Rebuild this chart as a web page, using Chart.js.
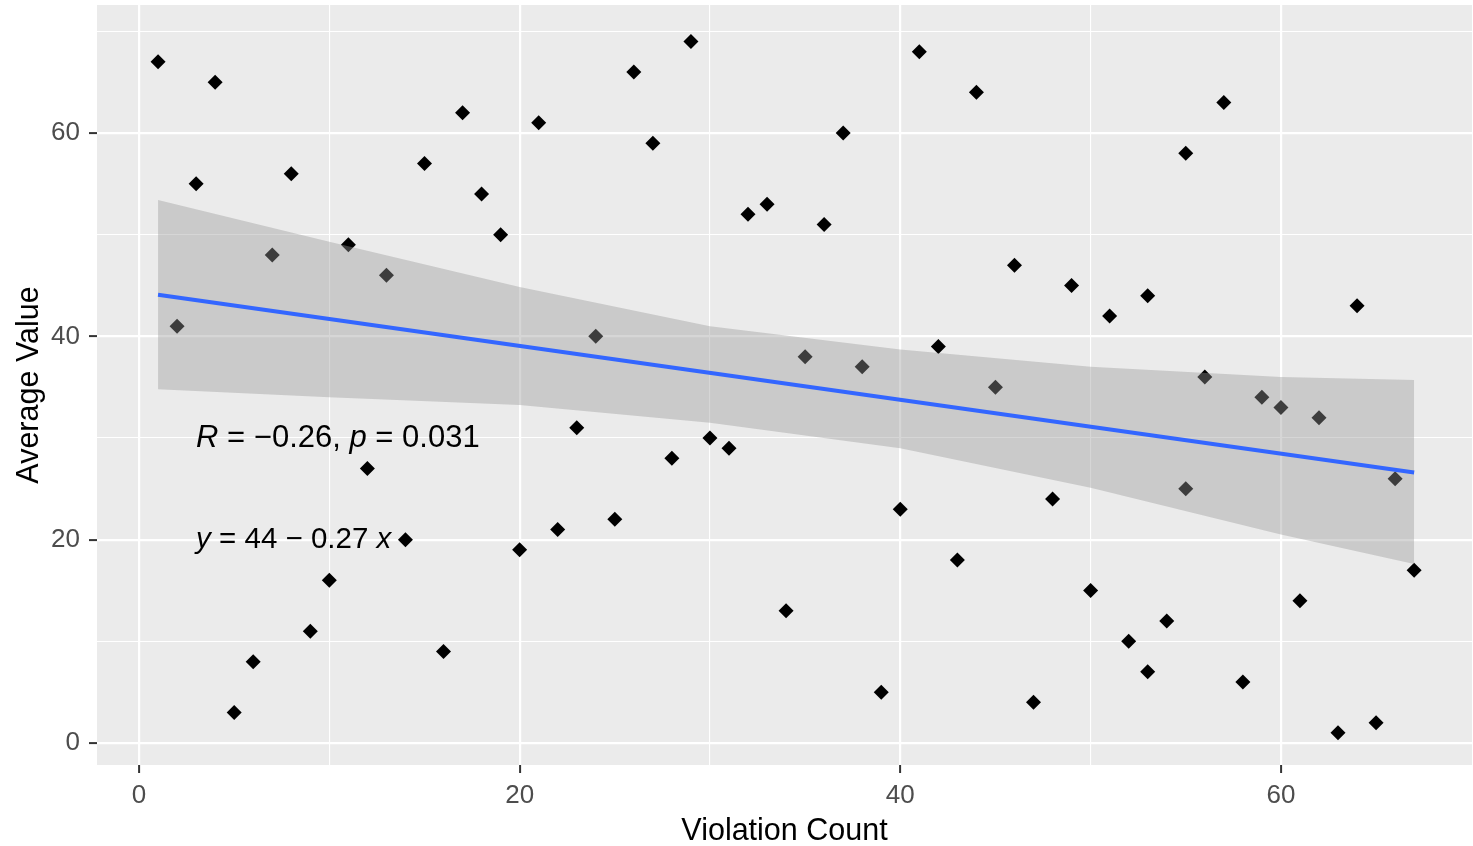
<!DOCTYPE html>
<html>
<head>
<meta charset="utf-8">
<title>Violation Count vs Average Value</title>
<script src="https://cdn.jsdelivr.net/npm/chart.js@4.4.1/dist/chart.umd.min.js"></script>
<style>
    html, body { margin: 0; padding: 0; background: #ffffff; }
    #wrap { width: 1473px; height: 846px; position: relative; }
</style>
</head>
<body>
<div id="wrap"><canvas id="scatterChart"></canvas></div>
<script>
// observed points
const violationCount = [
    1, 2, 3, 4, 5, 6, 7, 8, 9, 10, 11, 12, 13, 14, 15, 16, 17, 18, 19, 20,
    21, 22, 23, 24, 25, 26, 27, 28, 29, 30, 31, 32, 33, 34, 35, 36, 37, 38, 39, 40,
    41, 42, 43, 44, 45, 46, 47, 48, 49, 50, 51, 52, 53, 53, 54, 55, 55, 56, 57, 58,
    59, 60, 61, 62, 63, 64, 65, 66, 67
];
const averageValue = [
    67, 41, 55, 65, 3, 8, 48, 56, 11, 16, 49, 27, 46, 20, 57, 9, 62, 54, 50, 19,
    61, 21, 31, 40, 22, 66, 59, 28, 69, 30, 29, 52, 53, 13, 38, 51, 60, 37, 5, 23,
    68, 39, 18, 64, 35, 47, 4, 24, 45, 15, 42, 10, 44, 7, 12, 58, 25, 36, 63, 6,
    34, 33, 14, 32, 1, 43, 2, 26, 17
];

// fitted line
const fitX = [1, 67];
const fitY = [44.1, 26.6];

// confidence band edges
const bandX = [1, 10, 20, 30, 40, 50, 60, 67];
const bandUpper = [53.4, 49.3, 44.85, 41.0, 38.7, 37.0, 36.0, 35.7];
const bandLower = [34.8, 34.0, 33.25, 31.5, 29.0, 25.1, 20.5, 17.6];

// grid / tick labels
const xGridValues = [0, 10, 20, 30, 40, 50, 60];
const xTickLabels = [0, 20, 40, 60];
const yGridValues = [0, 10, 20, 30, 40, 50, 60, 70];
const yTickLabels = [0, 20, 40, 60];

const corLabel = [['R', true], [' = \u22120.26, ', false], ['p', true], [' = 0.031', false]];
const eqLabel = [['y', true], [' = 44 \u2212 0.27 ', false], ['x', true]];

const FONT = '"Liberation Sans", Arial, Helvetica, sans-serif';
Chart.defaults.font.family = FONT;

const toPoints = (xs, ys) => xs.map((x, i) => ({ x: x, y: ys[i] }));

// grey panel behind the grid
const panelBackground = {
    id: 'panelBackground',
    beforeDraw(chart) {
        const { ctx, chartArea } = chart;
        ctx.save();
        ctx.fillStyle = '#EBEBEB';
        ctx.fillRect(chartArea.left, chartArea.top, chartArea.right - chartArea.left, chartArea.bottom - chartArea.top);
        ctx.restore();
    }
};

// R / p and regression equation text
function drawRich(ctx, parts, x, y, size) {
    let cx = x;
    parts.forEach(([text, italic]) => {
        ctx.font = (italic ? 'italic ' : '') + size + 'px ' + FONT;
        ctx.fillText(text, cx, y);
        cx += ctx.measureText(text).width;
    });
}

const statLabels = {
    id: 'statLabels',
    afterDatasetsDraw(chart) {
        const { ctx, scales } = chart;
        ctx.save();
        ctx.fillStyle = '#000000';
        ctx.textAlign = 'left';
        ctx.textBaseline = 'middle';
        drawRich(ctx, corLabel, scales.x.getPixelForValue(3), scales.y.getPixelForValue(30), 31);
        drawRich(ctx, eqLabel, scales.x.getPixelForValue(3), scales.y.getPixelForValue(20), 29.5);
        ctx.restore();
    }
};

const isLabelled = (list, tick) => tick && list.includes(tick.value);

// keep the panel edges where the reference has them
function noEdgePadding(s) {
    s.paddingTop = 0;
    s.paddingBottom = 0;
    s.paddingLeft = 0;
    s.paddingRight = 0;
}

const ctx = document.getElementById('scatterChart').getContext('2d');
const scatterChart = new Chart(ctx, {
    type: 'line',
    data: {
        datasets: [
            {
                label: 'fit',
                data: toPoints(fitX, fitY),
                borderColor: '#3366FF',
                borderWidth: 4,
                pointRadius: 0,
                fill: false,
                order: 0
            },
            {
                label: 'upper',
                data: toPoints(bandX, bandUpper),
                borderColor: 'rgba(0,0,0,0)',
                borderWidth: 0,
                pointRadius: 0,
                backgroundColor: 'rgba(153,153,153,0.4)',
                fill: '+1',
                order: 1
            },
            {
                label: 'lower',
                data: toPoints(bandX, bandLower),
                borderColor: 'rgba(0,0,0,0)',
                borderWidth: 0,
                pointRadius: 0,
                fill: false,
                order: 2
            },
            {
                label: 'points',
                data: toPoints(violationCount, averageValue),
                showLine: false,
                pointStyle: 'rectRot',
                pointRadius: 7.5,
                pointBorderWidth: 0,
                pointBackgroundColor: '#000000',
                pointBorderColor: '#000000',
                order: 3
            }
        ]
    },
    options: {
        responsive: true,
        maintainAspectRatio: false,
        animation: false,
        layout: { autoPadding: false, padding: { top: 5, right: 1, left: 0, bottom: 0 } },
        plugins: {
            legend: { display: false },
            tooltip: { enabled: false }
        },
        scales: {
            x: {
                type: 'linear',
                min: -2.207,
                max: 70.04,
                afterBuildTicks: s => { s.ticks = xGridValues.map(v => ({ value: v })); },
                afterFit: s => { s.height = 81; noEdgePadding(s); },
                border: { display: false },
                grid: {
                    color: '#FFFFFF',
                    lineWidth: c => isLabelled(xTickLabels, c.tick) ? 2.2 : 1.1,
                    tickColor: c => isLabelled(xTickLabels, c.tick) ? '#333333' : 'rgba(0,0,0,0)',
                    tickWidth: 2,
                    tickLength: 8
                },
                ticks: {
                    autoSkip: false,
                    maxRotation: 0,
                    padding: 7,
                    color: '#4D4D4D',
                    font: { size: 26 },
                    callback: v => xTickLabels.includes(v) ? String(v) : ''
                },
                title: {
                    display: true,
                    text: 'Violation Count',
                    color: '#000000',
                    font: { size: 30.5, lineHeight: 0.9 },
                    padding: { top: 0, bottom: 0.5 }
                }
            },
            y: {
                type: 'linear',
                min: -2.164,
                max: 72.59,
                afterBuildTicks: s => { s.ticks = yGridValues.map(v => ({ value: v })); },
                afterFit: s => { s.width = 97; noEdgePadding(s); },
                border: { display: false },
                grid: {
                    color: '#FFFFFF',
                    lineWidth: c => isLabelled(yTickLabels, c.tick) ? 2.2 : 1.1,
                    tickColor: c => isLabelled(yTickLabels, c.tick) ? '#333333' : 'rgba(0,0,0,0)',
                    tickWidth: 2,
                    tickLength: 8
                },
                ticks: {
                    autoSkip: false,
                    padding: 9,
                    color: '#4D4D4D',
                    font: { size: 26 },
                    callback: v => yTickLabels.includes(v) ? String(v) : ''
                },
                title: {
                    display: true,
                    text: 'Average Value',
                    color: '#000000',
                    font: { size: 30.5, lineHeight: 1.2 },
                    padding: { top: 11.5, bottom: 0 }
                }
            }
        }
    },
    plugins: [panelBackground, statLabels]
});
</script>
</body>
</html>
